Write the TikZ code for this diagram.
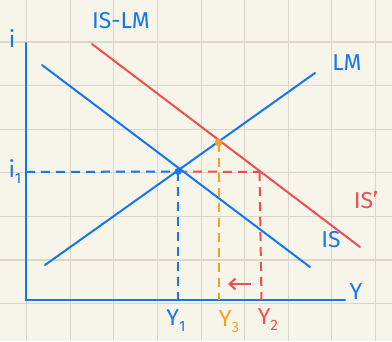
\documentclass[tikz,border=0pt]{standalone}
\usepackage{fontspec}
\setmainfont{Fira Sans}
\usetikzlibrary{arrows.meta}
\definecolor{paper}{HTML}{F7F4E9}
\definecolor{gridc}{HTML}{DCD7C9}
\definecolor{bl}{HTML}{1477EE}
\definecolor{rd}{HTML}{EF4F4F}
\definecolor{og}{HTML}{F5A11E}
\newcommand{\sbs}[1]{\raisebox{-6pt}{\fontsize{15}{15}\selectfont #1}}
\tikzset{
  gridline/.style={gridc, line width=1.1pt},
  curve/.style={line width=2pt, line cap=round},
  dsh/.style={line width=2pt, dash pattern=on 9pt off 6pt},
  lbl/.style={inner sep=0pt, font=\fontsize{23}{23}\selectfont},
}
\begin{document}
\begin{tikzpicture}[x=1pt,y=-1pt]
\useasboundingbox (0,0) rectangle (392,341);
\fill[paper] (0,0) rectangle (392,341);
% grid
\foreach \gx in {26.7,70.3,113.9,157.5,201.1,244.7,288.3,331.9,375.5}
  \draw[gridline] (\gx,0) -- (\gx,341);
\foreach \gy in {42,85.6,129.2,172.8,216.4,260,303.6}
  \draw[gridline] (0,\gy) -- (392,\gy);
% key points
\coordinate (O) at (26,300);
\coordinate (ytop) at (26,43);
\coordinate (xend) at (345,300);
\coordinate (isA) at (42,65);
\coordinate (isB) at (310,267);
\coordinate (lmA) at (45,265);
\coordinate (lmB) at (315,73);
\coordinate (ispA) at (92,44);
\coordinate (ispB) at (360,247);
\coordinate (E1) at (178,171.5);
\coordinate (E2) at (218.5,142.5);
\coordinate (R) at (259.5,172);
\coordinate (i1) at (26,172);
\coordinate (Y1) at (178,300);
\coordinate (Y3) at (218.5,300);
\coordinate (Y2) at (261.5,300);
\coordinate (arS) at (251,284);
\coordinate (arE) at (228,284);
% axes
\draw[bl, line width=2.2pt, line cap=round] (ytop) -- (O) -- (xend);
% dashed guides
\draw[bl, dsh] (i1) -- (E1);
\draw[bl, dsh] (E1) -- (Y1);
\draw[rd, dsh] (E1) -- (R);
\draw[rd, dsh] (R) -- (Y2);
\draw[og, dsh] (E2) -- (Y3);
% curves
\draw[bl, curve] (isA) -- (isB);
\draw[bl, curve] (lmA) -- (lmB);
\draw[rd, curve] (ispA) -- (ispB);
% dots
\fill[bl] (E1) circle (3.5pt);
\fill[og] (E2) circle (3.8pt);
% arrow
\draw[rd, line width=2pt, -{Straight Barb[length=6pt,width=11pt]}] (arS) -- (arE);
% labels
\node[lbl, bl] (ti) at (12,39) {i};
\node[lbl, bl] (ti1) at (15,172) {i\sbs{1}};
\node[lbl, bl] (tislm) at (121,21) {IS-LM};
\node[lbl, bl] (tlm) at (347,63) {LM};
\node[lbl, bl] (tis) at (331,240) {IS};
\node[lbl, rd] (tisp) at (366,200) {IS'};
\node[lbl, bl] (ty) at (356,292) {Y};
\node[lbl, bl] (ty1) at (176,321) {Y\sbs{1}};
\node[lbl, og] (ty3) at (229,322) {Y\sbs{3}};
\node[lbl, rd] (ty2) at (268,320) {Y\sbs{2}};
\end{tikzpicture}
\end{document}
